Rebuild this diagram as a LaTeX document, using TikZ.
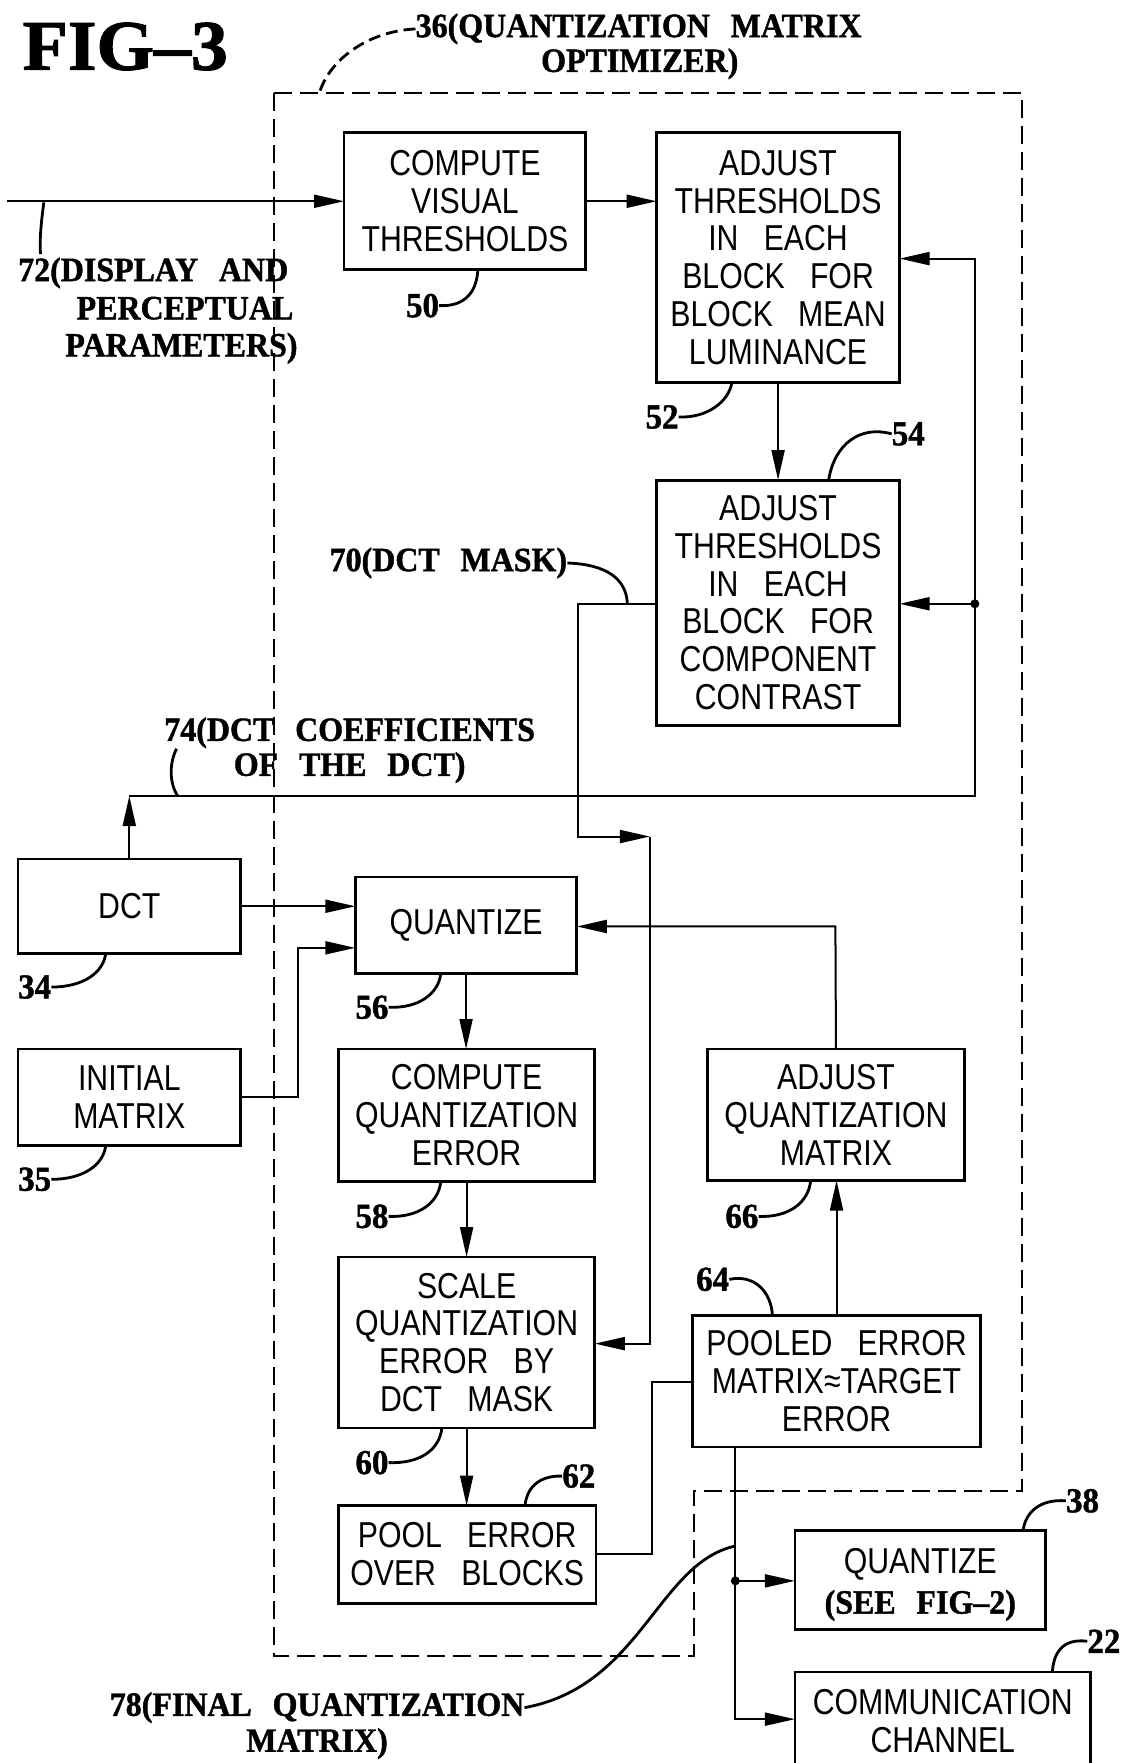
\documentclass[tikz,border=0pt]{standalone}
\usepackage{fontspec}
\usetikzlibrary{arrows.meta,fit}
\newfontfamily\boxfont[FakeStretch=0.84,WordSpace=3]{Liberation Sans}
\newfontfamily\labfont[FakeStretch=0.94,WordSpace=2.6,FakeBold=1.2]{Liberation Serif}
\newfontfamily\figfont[FakeStretch=1.04,FakeBold=1.5]{Liberation Serif}
\begin{document}
\begin{tikzpicture}[x=1.1239pt,y=-1.1239pt,
  blk/.style={draw,line width=2.8pt,inner sep=0pt,outer sep=0pt},
  txt/.style={inner sep=0pt,outer sep=0pt,align=center,anchor=center,
    font=\boxfont\fontsize{36}{37.8}\selectfont},
  lab/.style={inner sep=0pt,font=\labfont\bfseries\fontsize{34}{36}\selectfont},
  num/.style={inner sep=0pt,anchor=base west,font=\labfont\bfseries\fontsize{35}{36}\selectfont},
  conn/.style={line width=2pt},
  arr/.style={conn,-{Triangle[length=30pt,width=13pt]}},
  lead/.style={line width=2.8pt},
  bound/.style={line width=1.8pt,dash pattern=on 18pt off 8pt}]
\useasboundingbox (0,0) rectangle (1009,1568);

% boxes
\node[blk,fit={(306,118)(521,240)}] (n50) {};
\node[blk,fit={(584,118)(800,340)}] (n52) {};
\node[blk,fit={(584,427)(800,645)}] (n54) {};
\node[blk,fit={(16,764)(214,848)}] (n34) {};
\node[blk,fit={(16,933)(214,1019)}] (n35) {};
\node[blk,fit={(316,780)(513,866)}] (n56) {};
\node[blk,fit={(301,933)(529,1051)}] (n58) {};
\node[blk,fit={(629,933)(858,1050)}] (n66) {};
\node[blk,fit={(301,1118)(529,1270)}] (n60) {};
\node[blk,fit={(616,1170)(872,1287)}] (n64) {};
\node[blk,fit={(301,1339)(530,1426)}] (n62) {};
\node[blk,fit={(707,1361)(930,1449)}] (n38) {};
\node[blk,fit={(707,1487)(970,1575)}] (n22) {};

% box texts
\node[txt] (x50) at (n50.center) {COMPUTE\\VISUAL\\THRESHOLDS};
\node[txt] (x52) at (n52.center) {ADJUST\\THRESHOLDS\\IN EACH\\BLOCK FOR\\BLOCK MEAN\\LUMINANCE};
\node[txt] (x54) at (n54.center) {ADJUST\\THRESHOLDS\\IN EACH\\BLOCK FOR\\COMPONENT\\CONTRAST};
\node[txt] (x34) at (n34.center) {DCT};
\node[txt] (x35) at (n35.center) {INITIAL\\MATRIX};
\node[txt] (x56) at (n56.center) {QUANTIZE};
\node[txt] (x58) at (n58.center) {COMPUTE\\QUANTIZATION\\ERROR};
\node[txt] (x66) at (n66.center) {ADJUST\\QUANTIZATION\\MATRIX};
\node[txt] (x60) at (n60.center) {SCALE\\QUANTIZATION\\ERROR BY\\DCT MASK};
\node[txt] (x64) at (n64.center) {POOLED ERROR\\MATRIX≈TARGET\\ERROR};
\node[txt] (x62) at (n62.center) {POOL ERROR\\OVER BLOCKS};
\node[txt] (x38) at ([yshift=-5pt]n38.center) {QUANTIZE\\[2pt]{\labfont\bfseries\fontsize{34}{36}\selectfont (SEE FIG–2)}};
\node[txt] (x22) at (n22.center) {COMMUNICATION\\CHANNEL};

% optimizer boundary
\draw[bound] (244,83) -- (909,83) -- (909,1326) -- (617,1326) -- (617,1473) -- (244,1473) -- cycle;

% titles and labels
\node[anchor=base west,inner sep=0pt,font=\figfont\bfseries\fontsize{71}{71}\selectfont] (fig) at (20,62) {FIG–3};
\node[lab,anchor=base] (l36a) at (568,33) {36(QUANTIZATION MATRIX};
\node[lab,anchor=base] (l36b) at (569,64) {OPTIMIZER)};
\node[lab,anchor=base west] (l72a) at (16,250) {72(DISPLAY AND};
\node[lab,anchor=base west] (l72b) at (68,284) {PERCEPTUAL};
\node[lab,anchor=base west] (l72c) at (58,317) {PARAMETERS)};
\node[lab,anchor=base west] (l70) at (293,508) {70(DCT MASK)};
\node[lab,anchor=base] (l74a) at (311,659) {74(DCT COEFFICIENTS};
\node[lab,anchor=base] (l74b) at (311,690) {OF THE DCT)};
\node[lab,anchor=base] (l78a) at (282,1526) {78(FINAL QUANTIZATION};
\node[lab,anchor=base] (l78b) at (282,1558) {MATRIX)};

\node[num] (t50) at (361,282) {50};
\node[num] (t52) at (574,381) {52};
\node[num] (t54) at (793,396) {54};
\node[num] (t34) at (16,888) {34};
\node[num] (t35) at (16,1059) {35};
\node[num] (t56) at (316,906) {56};
\node[num] (t58) at (316,1092) {58};
\node[num] (t66) at (645,1092) {66};
\node[num] (t64) at (619,1148) {64};
\node[num] (t60) at (316,1311) {60};
\node[num] (t62) at (500,1323) {62};
\node[num] (t38) at (948,1345) {38};
\node[num] (t22) at (967,1470) {22};

% coordinates
\coordinate (in) at (6,179);
\coordinate (dot) at (867,537);
\coordinate (fbtop) at (867,230);
\coordinate (c74) at (115,708);
\coordinate (c70a) at (514,537);
\coordinate (c70b) at (514,744);
\coordinate (c70c) at (578,744);
\coordinate (c60) at (578,1195);
\coordinate (c35) at (265,843);
\coordinate (c62) at (580,1229);
\coordinate (c66) at (743,824);
\coordinate (c64) at (654,1406);
\coordinate (c22) at (654,1529);

% connectors
\draw[arr] (in) -- (in -| n50.west);
\draw[arr] (n50.east) -- (n50.east -| n52.west);
\draw[arr] (n52.south) -- (n52.south |- n54.north);
\draw[arr] (n34.north) -- (n34.north |- c74);
\draw[conn] (n34.north |- c74) -- (c74 -| dot) -- (dot);
\draw[arr] (dot) -- (fbtop) -- (fbtop -| n52.east);
\draw[arr] (dot) -- (dot -| n54.east);
\fill (dot) circle[radius=4.5pt];
\draw[arr] (dot -| n54.west) -- (c70a) -- (c70b) -- (c70c);
\draw[arr] (c70c) -- (c60) -- (c60 -| n60.east);
\draw[arr] (n34.east) -- (n34.east -| n56.west);
\draw[arr] (n35.east) -- (n35.east -| c35) -- (c35) -- (c35 -| n56.west);
\draw[arr] (n56.south) -- (n56.south |- n58.north);
\draw[arr] (n58.south) -- (n58.south |- n60.north);
\draw[arr] (n60.south) -- (n60.south |- n62.north);
\draw[conn] (n62.east) -- (n62.east -| c62) -- (c62) -- (c62 -| n64.west);
\draw[arr] (n64.north) -- (n64.north |- n66.south);
\draw[arr] (n66.north) -- (c66) -- (c66 -| n56.east);
\draw[arr] (c64 |- n64.south) -- (c22) -- (c22 -| n22.west);
\draw[arr] (c64) -- (c64 -| n38.west);
\fill (c64) circle[radius=4.5pt];

% leaders
\draw[lead,dash pattern=on 12pt off 6pt] (l36a.west) .. controls (325,28) and (292,55) .. (284,83);
\draw[lead] (39,180) .. controls (37,195) and (35,212) .. (36,226);
\draw[lead] (157,666) .. controls (150,680) and (151,697) .. (158,708);
\draw[lead] (l70.east) .. controls (540,502) and (557,515) .. (558,537);
\draw[lead] (l78a.east) .. controls (570,1500) and (585,1390) .. (654,1375);
\draw[lead] (t50.east) .. controls (415,273) and (424,258) .. (425,0 |- n50.south);
\draw[lead] (t52.east) .. controls (628,372) and (648,358) .. (651,0 |- n52.south);
\draw[lead] (t54.west) .. controls (765,378) and (742,395) .. (737,0 |- n54.north);
\draw[lead] (t34.east) .. controls (74,878) and (92,865) .. (94,0 |- n34.south);
\draw[lead] (t35.east) .. controls (74,1049) and (92,1036) .. (94,0 |- n35.south);
\draw[lead] (t56.east) .. controls (372,897) and (390,884) .. (392,0 |- n56.south);
\draw[lead] (t58.east) .. controls (372,1083) and (390,1070) .. (392,0 |- n58.south);
\draw[lead] (t66.east) .. controls (701,1083) and (719,1070) .. (721,0 |- n66.south);
\draw[lead] (t60.east) .. controls (374,1302) and (391,1289) .. (393,0 |- n60.south);
\draw[lead] (t64.east) .. controls (672,1133) and (686,1150) .. (687,0 |- n64.north);
\draw[lead] (t62.west) .. controls (478,1312) and (468,1325) .. (467,0 |- n62.north);
\draw[lead] (t38.west) .. controls (925,1333) and (912,1345) .. (910,0 |- n38.north);
\draw[lead] (t22.west) .. controls (945,1457) and (937,1470) .. (936,0 |- n22.north);
\end{tikzpicture}
\end{document}
